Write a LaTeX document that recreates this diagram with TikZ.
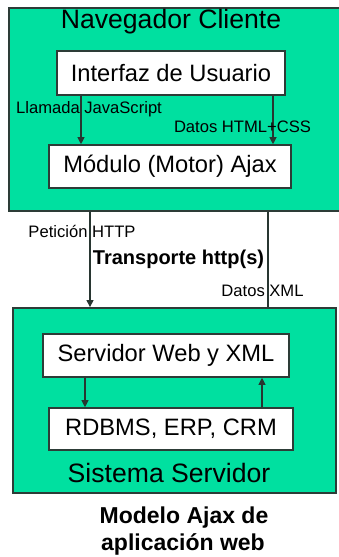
\documentclass[tikz,border=0pt]{standalone}
\usepackage{fontspec}
\setmainfont{Liberation Sans}
\usetikzlibrary{arrows.meta}
\definecolor{panelgreen}{RGB}{0,224,160}
\definecolor{edgegray}{RGB}{45,60,55}
\newcommand{\fs}[1]{\fontsize{#1}{#1}\selectfont}
\tikzset{
  panel/.style={draw=edgegray, line width=1.8pt, fill=panelgreen, inner sep=0pt},
  module/.style={draw=edgegray, line width=1.6pt, fill=white, inner sep=0pt, font=\fs{23.7}},
  flow/.style={draw=edgegray!90!black, line width=1.1pt},
  flowarrow/.style={flow, -{Triangle[length=7pt,width=7pt]}},
  lbl/.style={anchor=base, inner sep=0pt, font=\fs{16.6}},
  title/.style={anchor=base, inner sep=0pt, font=\fs{26.6}},
  capt/.style={anchor=base, inner sep=0pt, font=\bfseries\fs{23}}
}
\begin{document}
\begin{tikzpicture}[x=1pt, y=-1pt]
\useasboundingbox (0,0) rectangle (338,557);

% client side
\node[panel, minimum width=332pt, minimum height=203pt] (client) at (175,109.5) {};
\node[module, minimum width=228pt, minimum height=44pt] (ui) at (171,73) {Interfaz de Usuario};
\node[module, minimum width=242pt, minimum height=43pt] (ajax) at (170,166.5) {Módulo (Motor) Ajax};

% server side
\node[panel, minimum width=323pt, minimum height=185pt] (server) at (174.5,400.5) {};
\node[module, minimum width=246pt, minimum height=43pt] (web) at (166,355.5) {Servidor Web y XML};
\node[module, minimum width=244pt, minimum height=42pt] (db) at (171,429) {RDBMS, ERP, CRM};

% x positions of the connectors
\coordinate (cjs) at (81,0);
\coordinate (chtml) at (273,0);
\coordinate (creq) at (90,0);
\coordinate (cxml) at (268,0);
\coordinate (cdown) at (85,0);
\coordinate (cup) at (262,0);

% connectors
\draw[flowarrow] (ui.south -| cjs) -- (ajax.north -| cjs);
\draw[flowarrow] (ui.south -| chtml) -- (ajax.north -| chtml);
\draw[flowarrow] (client.south -| creq) -- (server.north -| creq);
\draw[flow] (server.north -| cxml) -- (client.south -| cxml);
\draw[flowarrow] (web.south -| cdown) -- (db.north -| cdown);
\draw[flowarrow] (db.north -| cup) -- (web.south -| cup);

% labels
\node[title] (tclient) at (171,28) {Navegador Cliente};
\node[lbl] (ljs) at (89,113) {Llamada JavaScript};
\node[lbl] (lhtml) at (242.5,132) {Datos HTML+CSS};
\node[lbl] (lreq) at (82,237) {Petición HTTP};
\node[anchor=base, inner sep=0pt, font=\bfseries\fs{20}] (ltrans) at (178.5,264) {Transporte http(s)};
\node[lbl] (lxml) at (262.5,296) {Datos XML};
\node[title] (tserver) at (169,482) {Sistema Servidor};
\node[capt] (cap1) at (184,523) {Modelo Ajax de};
\node[capt] (cap2) at (183,550) {aplicación web};
\end{tikzpicture}
\end{document}
